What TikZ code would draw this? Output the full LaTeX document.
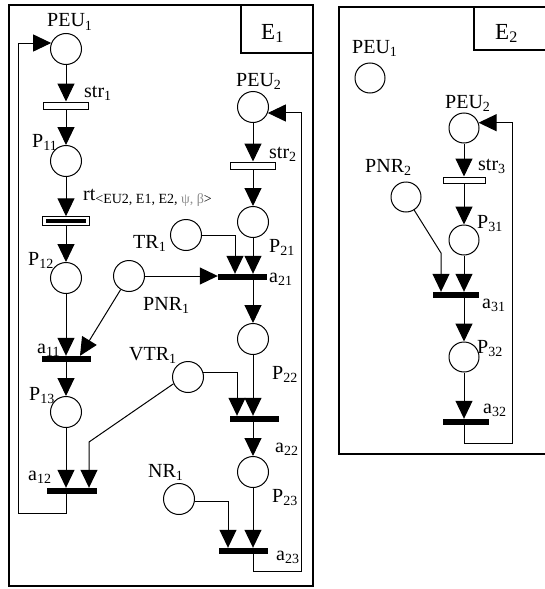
\documentclass[tikz,border=0pt]{standalone}
\usepackage{fontspec}
\setmainfont{Liberation Serif}
\usetikzlibrary{arrows.meta}
\definecolor{greekgray}{HTML}{8C8C8C}

\begin{document}
\begin{tikzpicture}[
  x=1pt,
  y=-1pt,
  every node/.style={font=\fontsize{20}{22}\selectfont},
  place/.style={circle, draw, line width=1pt, minimum size=31pt, inner sep=0pt},
  bar/.style={fill, minimum width=49pt, minimum height=6pt, inner sep=0pt},
  strbox/.style={draw, fill=white, line width=1pt, minimum width=45pt, minimum height=7pt, inner sep=0pt},
  arc/.style={line width=1pt, -{Triangle[length=18pt,width=17pt]}},
  lbl/.style={anchor=base west, inner sep=0pt},
  framelbl/.style={lbl, font=\fontsize{23}{25}\selectfont}
]
  \useasboundingbox (0,0) rectangle (544,589);

  % frame E1
  \draw[line width=1.2pt] (9,5) rectangle (313,586);
  \draw[line width=1.2pt] (241,5) |- (313,53);
  \node[framelbl] (eOneLbl) at (261,39) {E\textsubscript{1}};

  % places and transitions of E1
  \node[place] (peuA) at (66,49) {};
  \node[strbox] (strA) at (66,105.5) {};
  \node[place] (pA1) at (66,161) {};
  \node[strbox, minimum width=47pt, minimum height=8.5pt] (rtA) at (66,221) {};
  \fill ([shift={(4pt,-2.5pt)}]rtA.north west) rectangle ([shift={(-4pt,2.5pt)}]rtA.south east);
  \node[place] (pA2) at (66,278) {};
  \node[bar] (aA1) at (66.5,359) {};
  \node[place] (pA3) at (66,412) {};
  \node[bar, minimum width=50pt] (aA2) at (72,491) {};
  \node[place] (pnrA) at (129,276) {};
  \node[place] (trA) at (186,235) {};
  \node[place] (vtrA) at (188,377) {};
  \node[place] (nrA) at (179,499) {};
  \node[place] (peuB) at (253,107) {};
  \node[strbox] (strB) at (253,165.5) {};
  \node[place] (pB1) at (253,222) {};
  \node[bar] (aB1) at (242.5,277) {};
  \node[place] (pB2) at (253,339) {};
  \node[bar] (aB2) at (254.5,419) {};
  \node[place] (pB3) at (253,472) {};
  \node[bar] (aB3) at (243.5,551) {};
  \coordinate (loopA) at (18,513);
  \coordinate (loopB) at (301,571);
  \coordinate (vtrBend) at (89,442);

  \node[lbl] (peuAlbl) at (47,27) {PEU\textsubscript{1}};
  \node[lbl] (strAlbl) at (84,97) {str\textsubscript{1}};
  \node[lbl] (pA1lbl) at (32,147) {P\textsubscript{11}};
  \node[lbl] (rtAlbl) at (83,200) {rt\textsubscript{<EU2, E1, E2, \textcolor{greekgray}{ψ, β}>}};
  \node[lbl] (pA2lbl) at (28,265) {P\textsubscript{12}};
  \node[lbl] (pnrAlbl) at (143,310) {PNR\textsubscript{1}};
  \node[lbl] (aA1lbl) at (37,353) {a\textsubscript{11}};
  \node[lbl] (pA3lbl) at (29,400) {P\textsubscript{13}};
  \node[lbl] (aA2lbl) at (28,480) {a\textsubscript{12}};
  \node[lbl] (trAlbl) at (133,248) {TR\textsubscript{1}};
  \node[lbl] (vtrAlbl) at (129,360) {VTR\textsubscript{1}};
  \node[lbl] (nrAlbl) at (148,477) {NR\textsubscript{1}};
  \node[lbl] (peuBlbl) at (236,86) {PEU\textsubscript{2}};
  \node[lbl] (strBlbl) at (269,158) {str\textsubscript{2}};
  \node[lbl] (pB1lbl) at (269,252) {P\textsubscript{21}};
  \node[lbl] (aB1lbl) at (269,282) {a\textsubscript{21}};
  \node[lbl] (pB2lbl) at (272,379) {P\textsubscript{22}};
  \node[lbl] (aB2lbl) at (275,452) {a\textsubscript{22}};
  \node[lbl] (pB3lbl) at (272,502) {P\textsubscript{23}};
  \node[lbl] (aB3lbl) at (276,560) {a\textsubscript{23}};

  % arcs of E1
  \draw[arc] (peuA) -- (strA);
  \draw[arc] (strA) -- (pA1);
  \draw[arc] (pA1) -- (rtA);
  \draw[arc] (rtA) -- (pA2);
  \draw[arc] (pA2) -- (pA2 |- aA1.north);
  \draw[arc] (pnrA) -- ([xshift=13.5pt]aA1.north);
  \draw[arc] (pA3 |- aA1.south) -- (pA3);
  \draw[arc] (pA3) -- (pA3 |- aA2.north);
  \draw[arc] (vtrA.205) -- (vtrBend) -- (vtrBend |- aA2.north);
  \draw[arc] (pA3 |- aA2.south) |- (loopA) |- (peuA.158);
  \draw[arc] (peuB) -- (strB);
  \draw[arc] (strB) -- (pB1);
  \draw[arc] (pB1) -- (pB1 |- aB1.north);
  \draw[arc] (trA.east) -| ([xshift=-7.5pt]aB1.north);
  \draw[arc] (pnrA) -- (pnrA -| aB1.west);
  \draw[arc] (pB2 |- aB1.south) -- (pB2);
  \draw[arc] (pB2) -- (pB2 |- aB2.north);
  \draw[arc] (vtrA.15) -| ([xshift=-17.5pt]aB2.north);
  \draw[arc] (pB3 |- aB2.south) -- (pB3);
  \draw[arc] (pB3) -- (pB3 |- aB3.north);
  \draw[arc] (nrA.-10) -| ([xshift=-15.5pt]aB3.north);
  \draw[arc] (pB3 |- aB3.south) |- (loopB) |- (peuB.-22);

  % frame E2
  \draw[line width=1.2pt] (548,7) -- (339,7) -- (339,454) -- (548,454);
  \draw[line width=1.2pt] (548,50) -| (474,7);
  \node[framelbl] (eTwoLbl) at (495,39) {E\textsubscript{2}};

  % places and transitions of E2
  \node[place, minimum size=30pt] (peuC) at (370,78) {};
  \node[place, minimum size=30pt] (peuD) at (464,128) {};
  \node[strbox, minimum width=42pt, minimum height=6pt] (strC) at (464,180) {};
  \node[place, minimum size=30pt] (pC1) at (464,240) {};
  \node[place, minimum size=30pt] (pnrB) at (406,197) {};
  \node[bar, minimum width=46pt] (aC1) at (456,295) {};
  \node[place, minimum size=30pt] (pC2) at (464,357) {};
  \node[bar, minimum width=46pt] (aC2) at (466,422) {};
  \coordinate (loopC) at (512,443);
  \coordinate (pnrBend) at (441,253);

  \node[lbl] (peuClbl) at (352,53) {PEU\textsubscript{1}};
  \node[lbl] (peuDlbl) at (445,108) {PEU\textsubscript{2}};
  \node[lbl] (strClbl) at (478,170) {str\textsubscript{3}};
  \node[lbl] (pnrBlbl) at (365,172) {PNR\textsubscript{2}};
  \node[lbl] (pC1lbl) at (477,228) {P\textsubscript{31}};
  \node[lbl] (aC1lbl) at (482,308) {a\textsubscript{31}};
  \node[lbl] (pC2lbl) at (477,353) {P\textsubscript{32}};
  \node[lbl] (aC2lbl) at (483,413) {a\textsubscript{32}};

  % arcs of E2
  \draw[arc] (peuD) -- (strC);
  \draw[arc] (strC) -- (pC1);
  \draw[arc] (pC1) -- (pC1 |- aC1.north);
  \draw[arc] (pnrB) -- (pnrBend) -- (pnrBend |- aC1.north);
  \draw[arc] (pC1 |- aC1.south) -- (pC2);
  \draw[arc] (pC2) -- (pC2 |- aC2.north);
  \draw[arc] (pC2 |- aC2.south) |- (loopC) |- (peuD.20);
\end{tikzpicture}
\end{document}
